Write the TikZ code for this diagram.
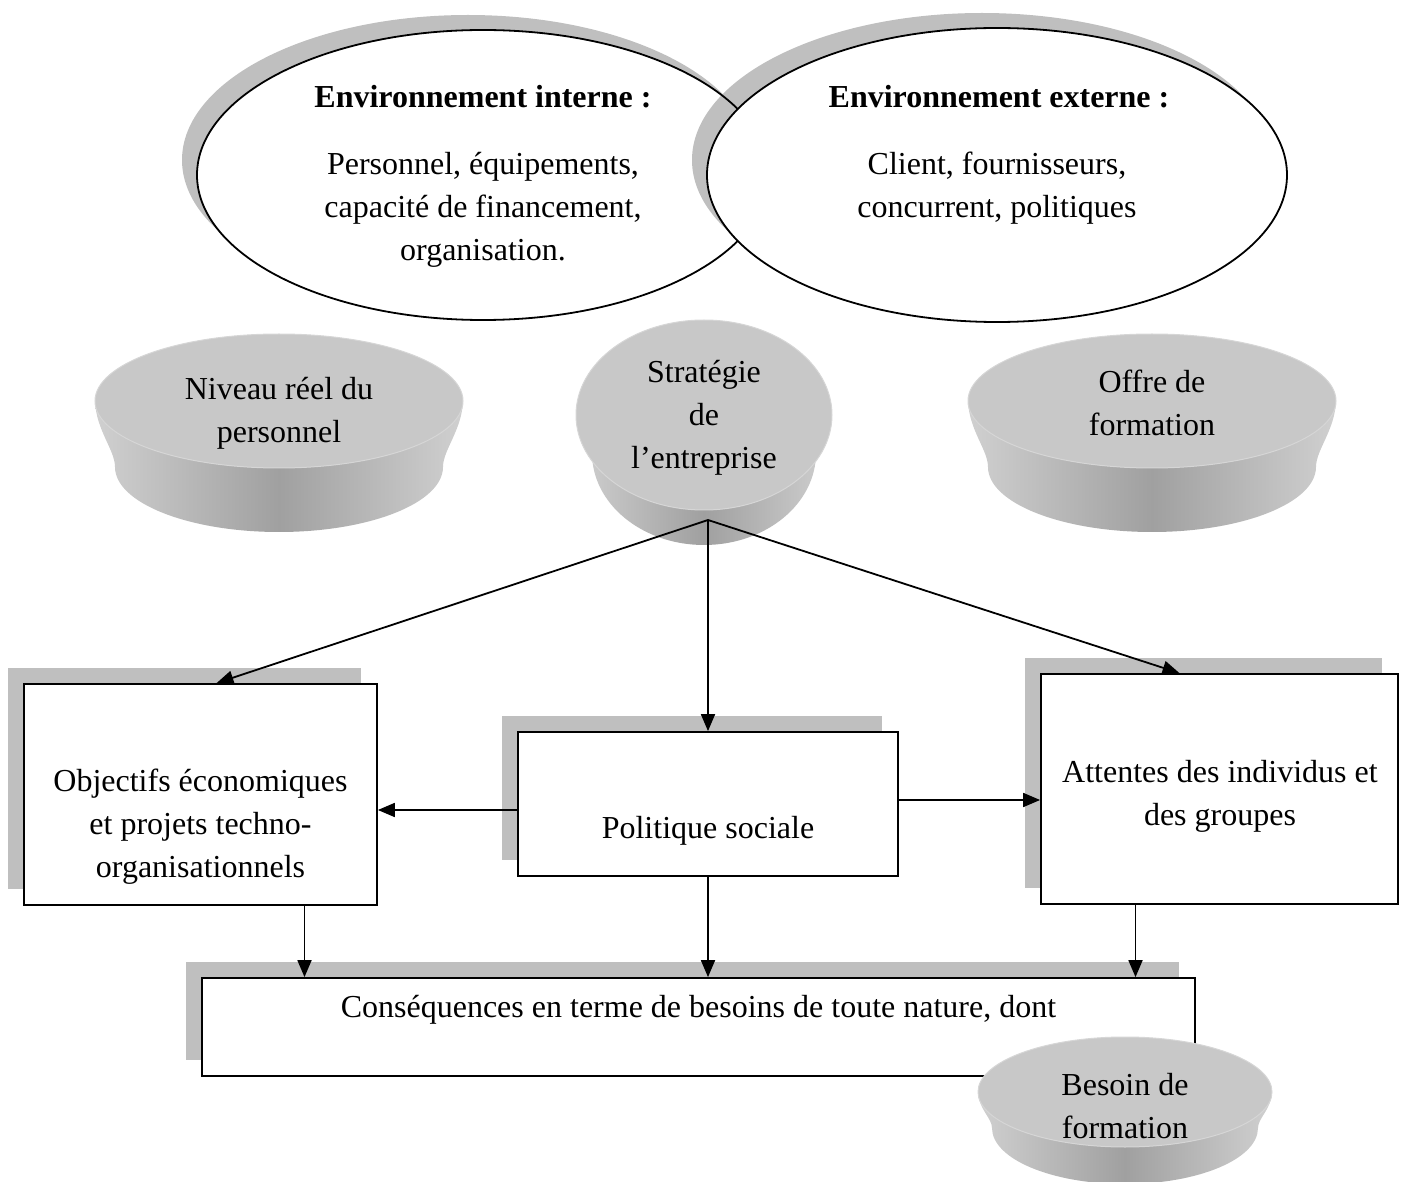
\documentclass[tikz,border=0pt]{standalone}
\usepackage{fontspec}
\setmainfont{Liberation Serif}
\usetikzlibrary{arrows.meta,shadows}
\definecolor{shadowgray}{RGB}{191,191,191}
\definecolor{discface}{RGB}{200,200,200}
\definecolor{discrim}{RGB}{214,214,214}
\definecolor{discdark}{RGB}{160,160,160}
\definecolor{disclight}{RGB}{208,208,208}
\begin{document}
\begin{tikzpicture}[x=0.5pt,y=-0.5pt,
  txt/.style={font=\fontsize{16pt}{21.5pt}\selectfont, inner sep=0pt, align=center},
  ttl/.style={font=\fontsize{16pt}{21.5pt}\selectfont\bfseries, inner sep=0pt, align=center},
  box/.style={draw=black, line width=0.85pt, fill=white, rectangle, inner sep=0pt,
    drop shadow={shadow xshift=-8pt, shadow yshift=8pt, fill=shadowgray, opacity=1}},
  arr/.style={-{Triangle[length=8.5pt,width=7pt]}, line width=0.9pt},
  outline/.style={draw=black, line width=0.9pt},
  side/.style={left color=disclight, right color=disclight, middle color=discdark},
  face/.style={fill=discface, draw=discrim, line width=0.5pt}
]
\useasboundingbox (0,0) rectangle (1405,1182);

% ---- top ellipses ----
\fill[shadowgray] (468,160) ellipse [x radius=143pt, y radius=72.5pt];
\fill[white] (483,175) ellipse [x radius=143pt, y radius=72.5pt];
\fill[shadowgray] (982,160) ellipse [x radius=145pt, y radius=73.5pt];
\draw[outline] (483,175) ellipse [x radius=143pt, y radius=72.5pt];
\filldraw[outline, fill=white] (997,175) ellipse [x radius=145pt, y radius=73.5pt];

\node[ttl] (intT) at (483,97) {Environnement interne :};
\node[txt] (intB) at (483,210) {Personnel, équipements,\\capacité de financement,\\organisation.};
\node[ttl] (extT) at (999,97) {Environnement externe :};
\node[txt] (extB) at (997,188) {Client, fournisseurs,\\concurrent, politiques};

% ---- discs ----
\shade[side] (95,401) .. controls (96,430) and (115,450) .. (115,467)
  arc[start angle=180, end angle=360, x radius=82pt, y radius=32.5pt]
  .. controls (443,450) and (462,430) .. (463,401) -- cycle;
\path[face] (279,401) ellipse [x radius=92pt, y radius=33.5pt];
\node[txt] (niv) at (279,413) {Niveau réel du\\personnel};

\shade[side] (576,415) .. controls (577,435) and (592,440) .. (592,453)
  arc[start angle=180, end angle=360, x radius=56pt, y radius=46pt]
  .. controls (816,440) and (831,435) .. (832,415) -- cycle;
\path[face] (704,415) ellipse [x radius=64pt, y radius=47.5pt];
\node[txt] (strat) at (704,418) {Stratégie\\de\\l’entreprise};

\shade[side] (968,401) .. controls (969,430) and (988,450) .. (988,467)
  arc[start angle=180, end angle=360, x radius=82pt, y radius=32.5pt]
  .. controls (1316,450) and (1335,430) .. (1336,401) -- cycle;
\path[face] (1152,401) ellipse [x radius=92pt, y radius=33.5pt];
\node[txt] (offre) at (1152,403) {Offre de\\formation};

% ---- boxes ----
\node[box, minimum width=176.5pt, minimum height=110.5pt] (obj) at (200.5,794.5) {};
\node[box, minimum width=190pt, minimum height=72pt] (pol) at (708,804) {};
\node[box, minimum width=178.5pt, minimum height=115pt] (att) at (1219.5,789) {};
\node[box, minimum width=496.5pt, minimum height=49pt] (cons) at (698.5,1027) {};

\node[txt] (objT) at (200.5,827) {Objectifs économiques\\et projets techno-\\organisationnels};
\node[txt] (polT) at (708,831) {Politique sociale};
\node[txt] (attT) at (1220,796) {Attentes des individus et\\des groupes};
\node[txt] (consT) at (698.5,1010) {Conséquences en terme de besoins de toute nature, dont};

% ---- connectors ----
\coordinate (apex) at (708,520);
\draw[arr] (apex) -- ([xshift=8pt]obj.north);
\draw[arr] (apex) -- (pol.north);
\draw[arr] (apex) -- ([xshift=-20pt]att.north);
\draw[arr] ([yshift=-3pt]pol.west) -- ([yshift=-3pt]pol.west -| obj.east);
\draw[arr] ([yshift=2pt]pol.east) -- ([yshift=2pt]pol.east -| att.west);
\draw[arr] ([xshift=52pt]obj.south) -- ([xshift=52pt]obj.south |- cons.north);
\draw[arr] (pol.south) -- (pol.south |- cons.north);
\draw[arr] ([xshift=-42pt]att.south) -- ([xshift=-42pt]att.south |- cons.north);

% ---- besoin disc ----
\shade[side] (978,1092) .. controls (979,1110) and (992,1118) .. (992,1128)
  arc[start angle=180, end angle=360, x radius=66.5pt, y radius=28pt]
  .. controls (1258,1118) and (1271,1110) .. (1272,1092) -- cycle;
\path[face] (1125,1092) ellipse [x radius=73.5pt, y radius=27.5pt];
\node[txt] (bes) at (1125,1106) {Besoin de\\formation};
\end{tikzpicture}
\end{document}
